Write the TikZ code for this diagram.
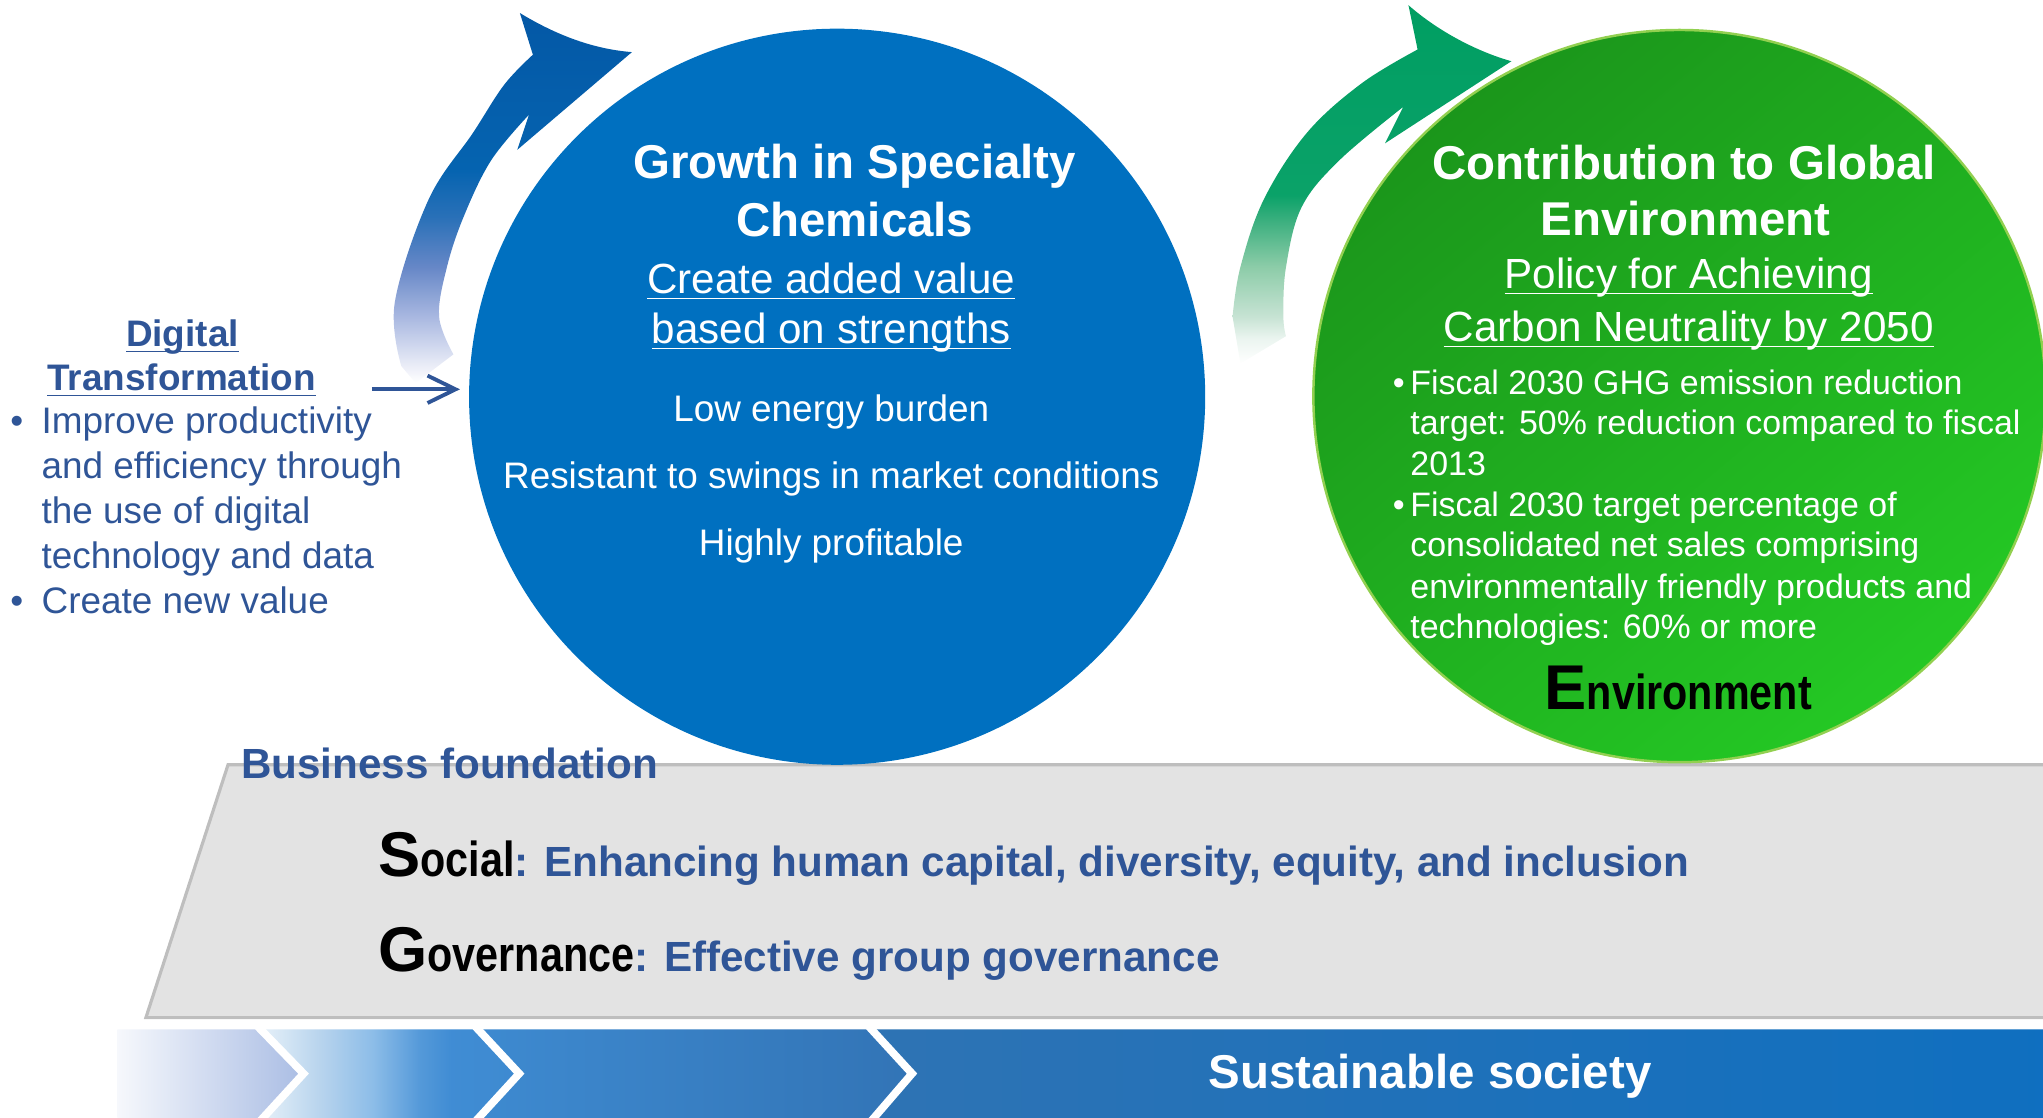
\documentclass[tikz,border=0pt]{standalone}
\usepackage{fontspec}
\setmainfont{Liberation Sans}
\newfontfamily\mynarrowfam[FakeStretch=0.84]{Liberation Sans}
\usetikzlibrary{arrows.meta}

\definecolor{circblue}{RGB}{0,112,192}
\definecolor{dtblue}{RGB}{47,85,151}
\definecolor{gdark}{RGB}{27,150,27}
\definecolor{gmid}{RGB}{34,188,34}
\definecolor{gbright}{RGB}{36,200,36}
\definecolor{gedge}{RGB}{146,208,80}
\definecolor{greyfill}{RGB}{227,227,227}
\definecolor{greyedge}{RGB}{190,190,190}
\definecolor{sa}{RGB}{246,248,252}
\definecolor{sb}{RGB}{170,189,228}
\definecolor{sc}{RGB}{62,138,208}
\definecolor{sd}{RGB}{50,116,182}
\definecolor{se}{RGB}{46,115,180}
\definecolor{sf}{RGB}{14,111,192}

\pgfdeclareverticalshading{bluearrowsh}{100bp}{rgb(0bp)=(1,1,1); rgb(25bp)=(1,1,1); rgb(27.3bp)=(0.92,0.93,0.97); rgb(34bp)=(0.66,0.72,0.88); rgb(40.7bp)=(0.40,0.53,0.78); rgb(47.5bp)=(0.16,0.44,0.72); rgb(53.9bp)=(0.02,0.39,0.69); rgb(75bp)=(0.016,0.345,0.65); rgb(100bp)=(0.016,0.345,0.65)}
\pgfdeclareverticalshading{greenarrowsh}{100bp}{rgb(0bp)=(1,1,1); rgb(25bp)=(1,1,1); rgb(28.5bp)=(0.92,0.96,0.94); rgb(31.5bp)=(0.78,0.89,0.83); rgb(38.5bp)=(0.55,0.80,0.66); rgb(44.8bp)=(0.24,0.69,0.50); rgb(48.5bp)=(0.04,0.635,0.41); rgb(75bp)=(0,0.62,0.385); rgb(100bp)=(0,0.62,0.385)}
\pgfdeclarehorizontalshading{segtwosh}{100bp}{rgb(0bp)=(0.91,0.94,0.98); rgb(25bp)=(0.91,0.94,0.98); rgb(27bp)=(0.88,0.93,0.97); rgb(37bp)=(0.72,0.83,0.93); rgb(47bp)=(0.55,0.74,0.91); rgb(56bp)=(0.33,0.60,0.85); rgb(62bp)=(0.25,0.55,0.83); rgb(75bp)=(0.243,0.541,0.816); rgb(100bp)=(0.243,0.541,0.816)}

\newcommand\myttl{\bfseries\fontsize{13.5pt}{16pt}\selectfont}
\newcommand\mysub{\fontsize{12pt}{14pt}\selectfont}
\newcommand\mybody{\fontsize{10.5pt}{12.6pt}\selectfont}
\newcommand\mybodyb{\bfseries\fontsize{10.5pt}{12.6pt}\selectfont}
\newcommand\mygreen{\fontsize{9.65pt}{11.6pt}\selectfont}
\newcommand\mybig{\bfseries\fontsize{18pt}{20pt}\selectfont}
\newcommand\mynar{\mynarrowfam\bfseries\fontsize{14pt}{16pt}\selectfont}
\newcommand\mysb{\bfseries\fontsize{12pt}{14pt}\selectfont}
\newcommand\myul[1]{\underline{\smash{#1}}}

\tikzset{
  lbl/.style={inner sep=0pt, outer sep=0pt, anchor=base},
  lblw/.style={inner sep=0pt, outer sep=0pt, anchor=base west},
  ctitle/.style={lbl, font=\myttl, text=white},
  csub/.style={lbl, font=\mysub, text=white},
  cbody/.style={lbl, font=\mybody, text=white},
  gline/.style={lblw, font=\mygreen, text=white},
  dthead/.style={lbl, font=\mybodyb, text=dtblue},
  dtline/.style={lblw, font=\mybody, text=dtblue},
  sepline/.style={white, line width=2.2pt},
}

\begin{document}
\begin{tikzpicture}[x=0.01303cm,y=-0.01303cm]
\useasboundingbox (0,0) rectangle (1568,858);
\clip (0,0) rectangle (1568,858);

% business foundation plate
\path[draw=greyedge, fill=greyfill, line width=0.9pt] (175,587) -- (1600,587) -- (1600,781) -- (112,781) -- cycle;

% bottom banner
\shade[left color=sa, right color=sb] (90,790) -- (198,790) -- (233,824) -- (200,858) -- (90,858) -- cycle;
\shade[shading=segtwosh] (198,790) -- (365,790) -- (398.5,824) -- (365.5,858) -- (200,858) -- (233,824) -- cycle;
\shade[left color=sc, right color=sd] (365,790) -- (667,790) -- (700,824) -- (669,858) -- (365.5,858) -- (398.5,824) -- cycle;
\shade[left color=se, right color=sf] (667,790) -- (1600,790) -- (1600,858) -- (669,858) -- (700,824) -- cycle;
\draw[sepline] (198,788) -- (233,824) -- (200,860);
\draw[sepline] (365,788) -- (398.5,824) -- (365.5,860);
\draw[sepline] (667,788) -- (700,824) -- (669,860);

% curved arrows
\shade[shading=bluearrowsh] (319,294) -- plot[smooth, tension=0.6] coordinates {(308,281) (303,232) (329,153) (363,102) (387,65) (409,42)} -- (399,10) .. controls (432,30) and (460,38) .. (485,40) -- (397,115) -- plot[smooth, tension=0.6] coordinates {(406,88) (377,123) (356,166) (343,205) (337,243) (348,272)} -- cycle;
\shade[shading=greenarrowsh] (952,279) -- plot[smooth, tension=0.6] coordinates {(946,243) (952,205) (970,153) (1003,102) (1045,64) (1088,38)} -- (1081,4) .. controls (1105,25) and (1135,40) .. (1160,47) -- (1063,110) -- plot[smooth, tension=0.6] coordinates {(1077,82) (1028,123) (999,159) (987,205) (985,243) (987,258)} -- cycle;

% circles
\node[circle, fill=circblue, minimum size=7.362cm, inner sep=0pt] (bc) at (642.5,304.5) {};
\node[circle, draw=gedge, line width=0.7pt, top color=gdark, middle color=gmid, bottom color=gbright, shading angle=40, minimum size=7.323cm, inner sep=0pt] (gc) at (1289,304) {};

% blue circle text
\node[ctitle] (bt1) at (656,136.9) {Growth in Specialty};
\node[ctitle] (bt2) at (656,181.6) {Chemicals};
\node[csub] (bs1) at (638,225.1) {\myul{Create added value}};
\node[csub] (bs2) at (638,263.5) {\myul{based on strengths}};
\node[cbody] (bb1) at (638,323.6) {Low energy burden};
\node[cbody] (bb2) at (638,374.8) {Resistant to swings in market conditions};
\node[cbody] (bb3) at (638,426) {Highly profitable};

% green circle text
\node[ctitle] (gt1) at (1292.5,138.1) {Contribution to Global};
\node[ctitle] (gt2) at (1293.5,180.4) {Environment};
\node[csub] (gs1) at (1296,221.3) {\myul{Policy for Achieving}};
\node[csub] (gs2) at (1296,262.2) {\myul{Carbon Neutrality by 2050}};
\node[gline] (gb1) at (1069,302.6) {•};
\node[gline] (gl1) at (1082.5,302.6) {Fiscal 2030 GHG emission reduction};
\node[gline] (gl2) at (1082.5,333.8) {target: 50\% reduction compared to fiscal};
\node[gline] (gl3) at (1082.5,365.3) {2013};
\node[gline] (gb2) at (1069,396.5) {•};
\node[gline] (gl4) at (1082.5,396.5) {Fiscal 2030 target percentage of};
\node[gline] (gl5) at (1082.5,427.2) {consolidated net sales comprising};
\node[gline] (gl6) at (1082.5,459.2) {environmentally friendly products and};
\node[gline] (gl7) at (1082.5,489.9) {technologies: 60\% or more};
\node[lblw, text=black] (genv) at (1185.5,544.9) {{\mybig E}{\mynar nvironment}};

% digital transformation
\node[dthead] (dt1) at (140,266) {\myul{Digital}};
\node[dthead] (dt2) at (139.5,299.8) {\myul{Transformation}};
\node[dtline] (db1) at (8,332.6) {•};
\node[dtline] (dl1) at (32,332.6) {Improve productivity};
\node[dtline] (dl2) at (32,367) {and efficiency through};
\node[dtline] (dl3) at (32,401.6) {the use of digital};
\node[dtline] (dl4) at (32,436.2) {technology and data};
\node[dtline] (db2) at (8,470.7) {•};
\node[dtline] (dl5) at (32,470.7) {Create new value};
\coordinate (dtS) at (285.5,298.8);
\coordinate (dtE) at (353,298.8);
\draw[dtblue, line width=1.1pt, -{Straight Barb[length=2.8mm,width=2.74mm]}] (dtS) -- (dtE);

% foundation text
\node[lblw, font=\mysb, text=dtblue] (bf) at (185,597.5) {Business foundation};
\node[lblw, text=black] (soc) at (290.5,672.8) {{\mybig S}{\mynar ocial}{\mysb\color{dtblue}: Enhancing human capital, diversity, equity, and inclusion}};
\node[lblw, text=black] (gov) at (290.5,745.7) {{\mybig G}{\mynar overnance}{\mysb\color{dtblue}: Effective group governance}};

% banner text
\node[ctitle] (ss) at (1097.6,835.8) {Sustainable society};
\end{tikzpicture}
\end{document}
